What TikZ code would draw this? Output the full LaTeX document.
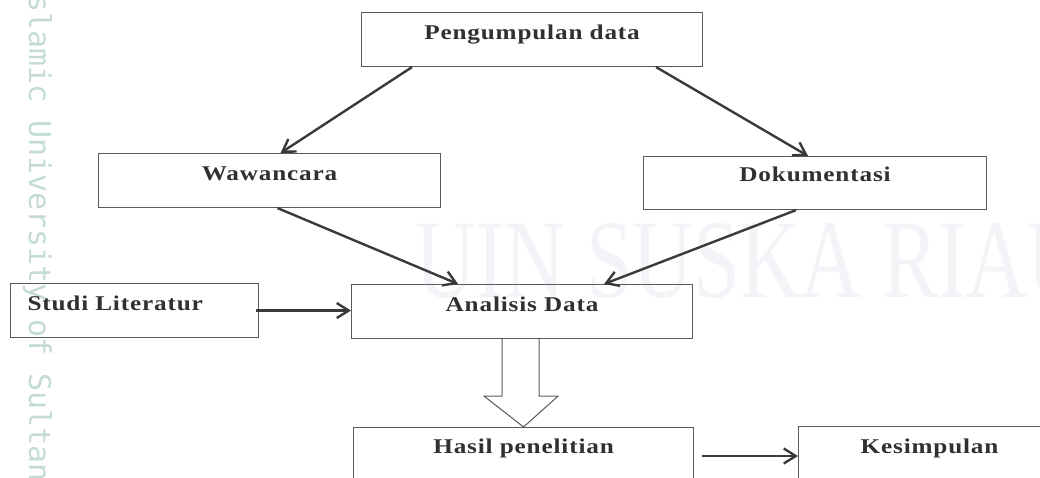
\documentclass[tikz,border=0pt]{standalone}
\usepackage{fontspec}
\setmainfont{Liberation Serif}
\newfontfamily\boxfont{Liberation Serif}[FakeStretch=1.2,LetterSpace=4]
\newfontfamily\wmserif{Liberation Serif}
\newfontfamily\wmmono{DejaVu Sans Mono}
\usetikzlibrary{arrows.meta,calc}
\definecolor{boxline}{HTML}{5A5A5A}
\definecolor{arrowc}{HTML}{3A3A3A}
\definecolor{txt}{HTML}{303030}
\definecolor{wmlight}{HTML}{F4F4F8}
\definecolor{wmteal}{HTML}{C4DCD5}
\begin{document}
\begin{tikzpicture}[x=1pt,y=-1pt,
  stepbox/.style={draw=boxline, line width=1.1pt, rectangle, inner sep=0pt,
    text height=27pt, text depth=27pt, text=txt,
    font=\boxfont\bfseries\fontsize{21}{24}\selectfont},
  conn/.style={draw=arrowc, line width=2.4pt,
    -{Straight Barb[length=12pt,width=15pt]}},
  blockarrow/.style={draw=boxline, line width=1pt, line join=miter}
]
\useasboundingbox (0,0) rectangle (1040,477);
% watermarks
\node[anchor=base east, inner sep=0pt, text=wmlight, xscale=0.75,
  font=\wmserif\fontsize{112}{112}\selectfont] (wmA) at (1088,297) {UIN SUSKA RIAU};
\node[anchor=base west, inner sep=0pt, rotate=-90, text=wmteal,
  font=\wmmono\fontsize{30}{30}\selectfont] (wmB) at (29,-24) {Islamic University of Sultan};
% boxes
\node[stepbox, minimum width=341pt, anchor=north west] (peng) at (361,12) {Pengumpulan data};
\node[stepbox, minimum width=342pt, anchor=north west] (waw) at (98,153) {Wawancara};
\node[stepbox, minimum width=343pt, anchor=north west, text height=25pt, text depth=28pt] (dok) at (643,156) {Dokumentasi};
\node[stepbox, text width=214pt, inner xsep=17pt, align=left, anchor=north west] (studi) at (10,283) {Studi Literatur};
\node[stepbox, minimum width=341pt, anchor=north west] (anal) at (351,284) {Analisis Data};
\node[stepbox, minimum width=340pt, anchor=north west, text height=26pt, text depth=70pt] (hasil) at (353,427) {Hasil penelitian};
\node[stepbox, minimum width=262pt, anchor=north west, text depth=70pt] (kes) at (798,426) {Kesimpulan};
% connectors
\draw[conn] ($(peng.south west)+(51,0)$) -- ($(waw.north)+(11,0)$);
\draw[conn] ($(peng.south east)+(-47,0)$) -- ($(dok.north)+(-7,0)$);
\draw[conn] ($(waw.south)+(8,0)$) -- ($(anal.north)+(-64,0)$);
\draw[conn] ($(dok.south)+(-19,0)$) -- ($(anal.north)+(82,0)$);
\draw[conn] ($(studi.east)+(-3,0)$) -- (anal.west |- studi.east);
\draw[conn] ($(hasil.north east)+(8,29)$) -- ($(kes.north west)+(0,30)$);
% block arrow
\draw[blockarrow] ($(anal.south)+(-20,0)$) -- ($(anal.south)+(-20,57)$) -- ($(anal.south)+(-38,57)$)
  -- (hasil.north) -- ($(anal.south)+(36,57)$) -- ($(anal.south)+(17,57)$) -- ($(anal.south)+(17,0)$);
\end{tikzpicture}
\end{document}
